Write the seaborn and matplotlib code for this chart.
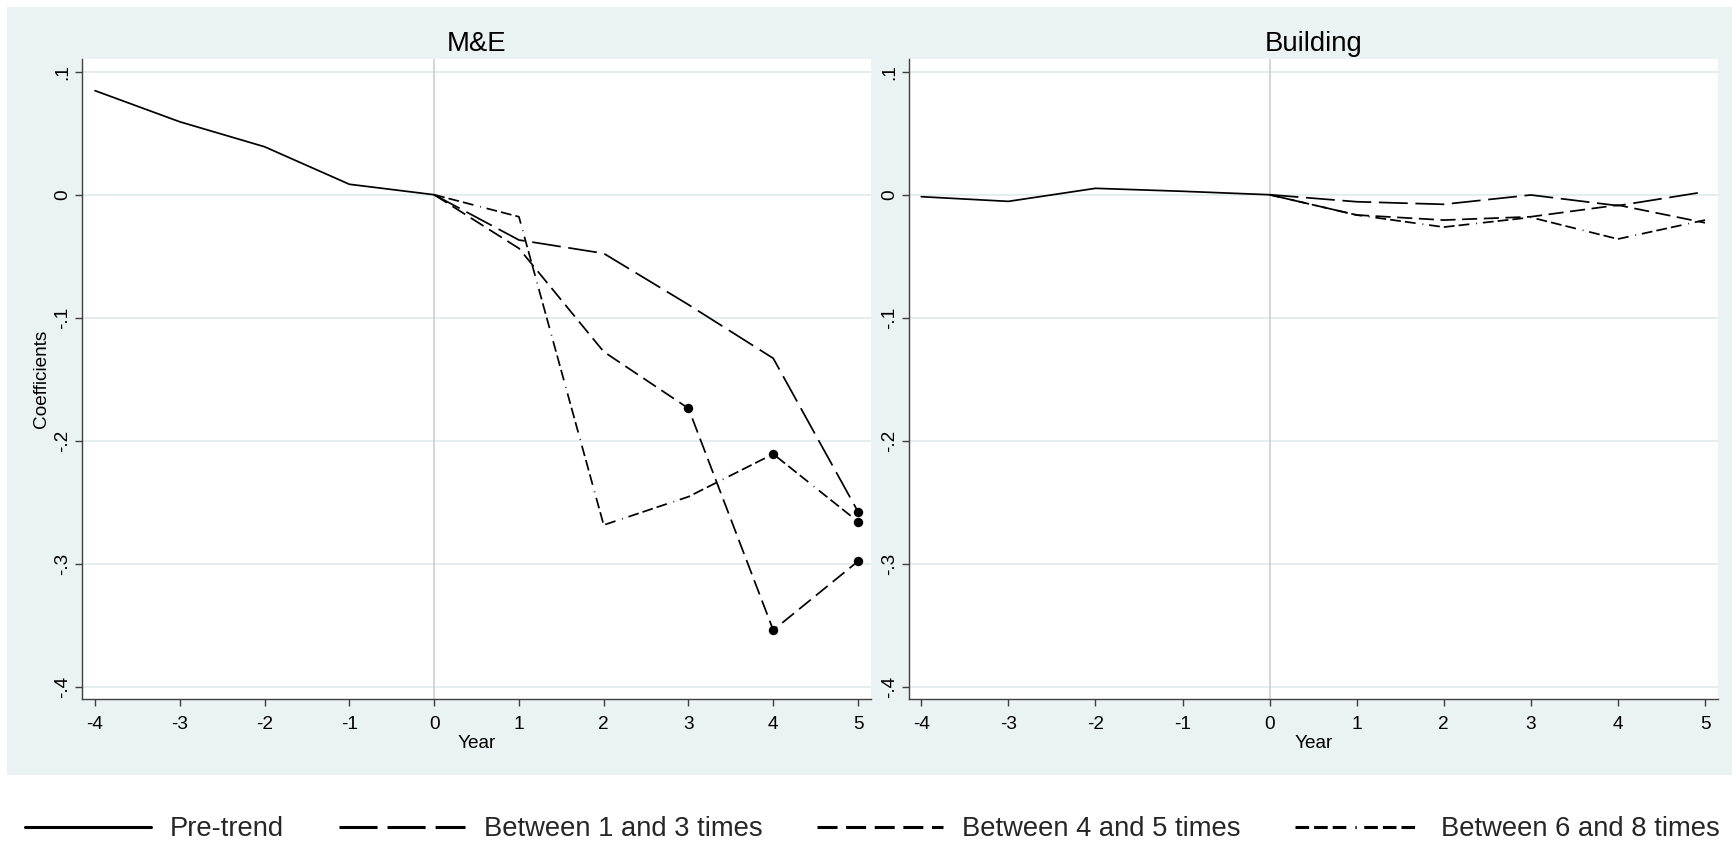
import numpy as np
import pandas as pd
import matplotlib
matplotlib.use("Agg")
import matplotlib.pyplot as plt
from matplotlib.lines import Line2D
from matplotlib.patches import Rectangle
import seaborn as sns

# ---------------- data ----------------
panels = ["M&E", "Building"]
series = ["Pre-trend", "Between 1 and 3 times", "Between 4 and 5 times", "Between 6 and 8 times"]
pre_years = [-4, -3, -2, -1, 0]
post_years = [0, 1, 2, 3, 4, 5]

me_pre = [0.0846, 0.0593, 0.0390, 0.0085, 0.0]
me_1_3 = [0.0, -0.0368, -0.0477, -0.0894, -0.1330, -0.2577]
me_4_5 = [0.0, -0.0436, -0.1276, -0.1737, -0.3540, -0.2980]
me_6_8 = [0.0, -0.0179, -0.2685, -0.2455, -0.2108, -0.2658]

bd_pre = [-0.0016, -0.0054, 0.0052, 0.0028, 0.0]
bd_1_3 = [0.0, -0.0057, -0.0078, -0.0002, -0.0089, 0.0024]
bd_4_5 = [0.0, -0.0165, -0.0206, -0.0179, -0.0084, -0.0228]
bd_6_8 = [0.0, -0.0165, -0.0263, -0.0184, -0.0360, -0.0206]

# years marked with a filled dot (M&E panel only)
me_marked_1_3 = [5]
me_marked_4_5 = [3, 4, 5]
me_marked_6_8 = [4, 5]

x_ticks = [-4, -3, -2, -1, 0, 1, 2, 3, 4, 5]
y_ticks = [-0.4, -0.3, -0.2, -0.1, 0.0, 0.1]
y_tick_labels = ["-.4", "-.3", "-.2", "-.1", "0", ".1"]

# ---------------- build tables ----------------
rows = []
marks = []
panel_data = {
    "M&E": [me_pre, me_1_3, me_4_5, me_6_8],
    "Building": [bd_pre, bd_1_3, bd_4_5, bd_6_8],
}
panel_marks = {
    "M&E": [[], me_marked_1_3, me_marked_4_5, me_marked_6_8],
    "Building": [[], [], [], []],
}
for p in panels:
    for i, s in enumerate(series):
        yrs = pre_years if i == 0 else post_years
        vals = panel_data[p][i]
        for yr, v in zip(yrs, vals):
            rows.append({"panel": p, "series": s, "year": yr, "coef": v})
            if yr in panel_marks[p][i]:
                marks.append({"panel": p, "series": s, "year": yr, "coef": v})
df = pd.DataFrame(rows)
dm = pd.DataFrame(marks, columns=["panel", "series", "year", "coef"])

# ---------------- style ----------------
sns.set_theme(style="white")
plt.rcParams["font.family"] = ["Liberation Sans", "DejaVu Sans"]
plt.rcParams["lines.scale_dashes"] = False

BG = "#EAF2F3"
GRID = "#E4ECEE"
AX = "#3F3F3F"

plot_dashes = {
    series[0]: "",
    series[1]: (20.8, 5.5),
    series[2]: (10.9, 4.7),
    series[3]: (7.8, 2.9, 7.8, 2.9, 7.8, 5.0, 0.6, 4.2),
}
leg_dashes = [
    None,
    (27.4, 7.2),
    (14.4, 6.2),
    (9.8, 3.6, 9.8, 3.6, 9.8, 6.5, 1.0, 5.4),
]

W, H = 1732, 844
fig = plt.figure(figsize=(W / 100, H / 100), dpi=100, facecolor="white")
fig.add_artist(Rectangle((7 / W, 1 - 775 / H), 1 - 7 / W, (775 - 7) / H,
                         transform=fig.transFigure, facecolor=BG,
                         edgecolor="none", zorder=-10))

ybot = 1 - 699.3 / H
ytop = 1 - 59.3 / H
axes_rects = [
    (82.3 / W, ybot, (871 - 82.3) / W, ytop - ybot),
    (909 / W, ybot, (1717.7 - 909) / W, ytop - ybot),
]
xlims = [(-4.15, 5.153), (-4.141, 5.146)]

for k, p in enumerate(panels):
    ax = fig.add_axes(axes_rects[k])
    ax.set_facecolor("white")
    sub = df[df["panel"] == p]
    ax.axvline(0, color="#CBCBCB", lw=1.1, zorder=1)
    sns.lineplot(data=sub, x="year", y="coef", style="series", style_order=series,
                 dashes=plot_dashes, color="black", linewidth=1.25,
                 legend=False, errorbar=None, ax=ax, zorder=3)
    subm = dm[dm["panel"] == p]
    if len(subm):
        sns.scatterplot(data=subm, x="year", y="coef", color="black", s=46,
                        linewidth=0, legend=False, ax=ax, zorder=4)
    ax.set_xlim(*xlims[k])
    ax.set_ylim(-0.4102, 0.1101)
    ax.set_xticks(x_ticks)
    ax.set_xticklabels([str(t) for t in x_ticks])
    ax.set_yticks(y_ticks)
    ax.set_yticklabels(y_tick_labels, rotation=90, va="center")
    ax.yaxis.grid(True, color=GRID, lw=1.3, zorder=0)
    ax.xaxis.grid(False)
    ax.set_axisbelow(True)
    for side in ["top", "right"]:
        ax.spines[side].set_visible(False)
    for side in ["left", "bottom"]:
        ax.spines[side].set_color(AX)
        ax.spines[side].set_linewidth(1.0)
    ax.tick_params(axis="x", direction="out", length=5, width=1.0, color=AX,
                   labelsize=13.7, pad=6.8, labelcolor="black", bottom=True)
    ax.tick_params(axis="y", direction="out", length=5, width=1.0, color=AX,
                   labelsize=13.7, pad=3.0, labelcolor="black", left=True)
    ax.set_xlabel("Year", fontsize=13.7, labelpad=1.4, color="black")
    if k == 0:
        ax.set_ylabel("Coefficients", fontsize=13.7, color="black")
        ax.yaxis.set_label_coords(-0.0405, 0.5)
    else:
        ax.set_ylabel("")
    ax.set_title(p, fontsize=19.8, pad=6.0, color="black")

handles = []
for i, s in enumerate(series):
    if leg_dashes[i] is None:
        h = Line2D([], [], color="black", lw=2.2, linestyle="-")
    else:
        h = Line2D([], [], color="black", lw=2.2, dashes=leg_dashes[i])
    handles.append(h)

fig.legend(handles, series, loc="center", bbox_to_anchor=(0.5035, 1 - 829.2 / H),
           ncol=4, frameon=False, fontsize=19.7, handlelength=4.62,
           handletextpad=0.7, columnspacing=1.98, borderpad=0, borderaxespad=0)

fig.savefig("out.png", dpi=100, facecolor="white")
